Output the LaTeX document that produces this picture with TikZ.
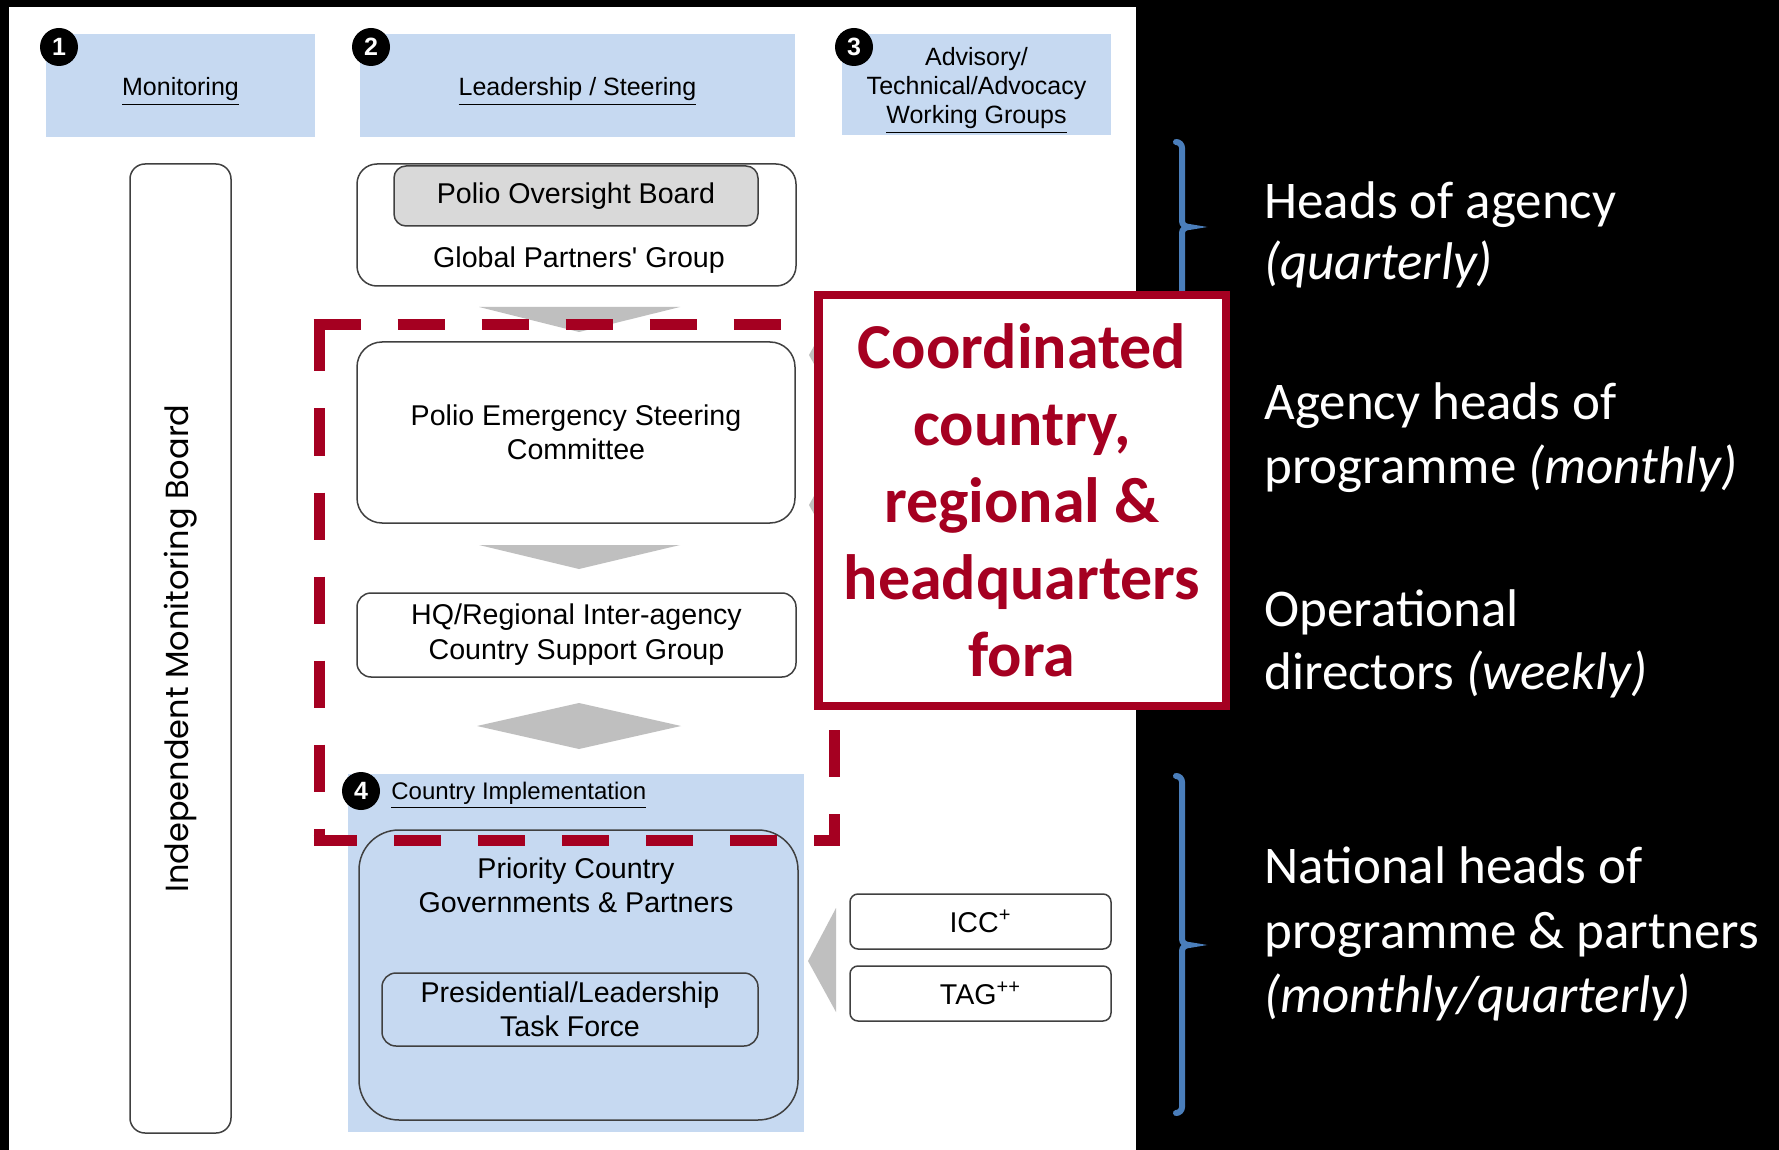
\documentclass[tikz,border=0pt]{standalone}
\usepackage{fontspec}
\setmainfont{Liberation Sans}
\newfontfamily\calibrifont{Carlito}
\newfontfamily\poppinsfont{Poppins}
\newcommand{\straightquote}{\XeTeXglyph\XeTeXcharglyph"27\relax}
\definecolor{hdrblue}{HTML}{C6D9F1}
\definecolor{arrowgray}{HTML}{BFBFBF}
\definecolor{darkred}{HTML}{A50021}
\definecolor{braceblue}{HTML}{4A7EBB}
\definecolor{pobgray}{HTML}{D9D9D9}
\definecolor{boxgray}{HTML}{404040}
\begin{document}
\begin{tikzpicture}[x=0.5pt,y=-0.5pt,
  hdr/.style={fill=hdrblue, inner sep=0},
  hdrtxt/.style={inner sep=0, align=center, font=\fontsize{12.5}{14.5}\selectfont},
  num/.style={circle, fill=black, minimum size=19pt, inner sep=0, text=white, font=\bfseries\fontsize{12.5}{12.5}\selectfont},
  box/.style={draw=boxgray, line width=0.75pt, fill=white, inner sep=0, align=center, font=\fontsize{14.3}{17}\selectfont},
  txt/.style={inner sep=0, align=center, font=\fontsize{14.3}{17}\selectfont},
  redbox/.style={draw=darkred, line width=4.25pt, fill=white, inner sep=0, align=center, text=darkred,
     font=\calibrifont\bfseries\fontsize{32}{38.5}\selectfont},
  reddash/.style={draw=darkred, line width=5.5pt, dash pattern=on 23.5pt off 18.5pt},
  side/.style={text=white, anchor=base west, inner sep=0, font=\calibrifont\fontsize{26.5}{31.5}\selectfont},
  bracepath/.style={draw=braceblue, line width=3pt, line cap=round}]
\useasboundingbox (0,0) rectangle (1779,1150);
\fill[black] (0,0) rectangle (1779,1150);
\fill[white] (9,7) rectangle (1136,1150);

% column headers
\node[hdr, minimum width=134.5pt, minimum height=51.5pt] (monh) at (180.5,85.5) {};
\node[hdr, minimum width=217.5pt, minimum height=51.5pt] (leadh) at (577.5,85.5) {};
\node[hdr, minimum width=134.5pt, minimum height=50.5pt] (advh) at (976.5,84.5) {};
\node[hdrtxt] (monht) at ([yshift=-3pt]monh.center) {\underline{Monitoring}};
\node[hdrtxt] (leadht) at ([yshift=-3pt]leadh.center) {\underline{Leadership / Steering}};
\node[hdrtxt] (advht) at ([yshift=-3pt]advh.center) {Advisory/\\Technical/Advocacy\\\underline{Working Groups}};
\node[num] (n1) at (59,47) {1};
\node[num] (n2) at (371,47) {2};
\node[num] (n3) at (854,47) {3};

% monitoring board
\node[box, rotate=90, minimum width=484.5pt, minimum height=50.5pt, rounded corners=7.5pt,
      font=\poppinsfont\fontsize{16}{18}\selectfont] (imb) at (180.5,648.5) {Independent Monitoring Board};

% leadership column
\node[box, minimum width=219.5pt, minimum height=61pt, rounded corners=10pt] (gpg) at (576.5,225) {};
\node[txt] (gpgt) at (579,260) {Global Partners\straightquote{} Group};
\node[box, fill=pobgray, minimum width=182pt, minimum height=30pt, rounded corners=6pt] (pob) at (576,196) {Polio Oversight Board};

\fill[arrowgray] (479,307) -- (680,307) -- (579,332) -- cycle;
\node[box, minimum width=219pt, minimum height=90.5pt, rounded corners=12.5pt] (pesc) at (576,432.5) {Polio Emergency Steering\\Committee};
\fill[arrowgray] (479,545) -- (680,545) -- (579,569) -- cycle;
\node[box, minimum width=219.5pt, minimum height=42pt, rounded corners=7pt, font=\fontsize{14.3}{17.5}\selectfont] (hq) at (576.5,635) {HQ/Regional Inter-agency\\Country Support Group};
\fill[arrowgray] (477,726) -- (579,703) -- (681,726) -- (579,749) -- cycle;

% country implementation
\node[fill=hdrblue, minimum width=228pt, minimum height=179pt, inner sep=0] (ci) at (576,953) {};
\node[num] (n4) at (361,791) {4};
\node[anchor=west, inner sep=0, font=\fontsize{12}{14}\selectfont] (cit) at (391,795) {\underline{Country Implementation}};
\node[box, fill=none, minimum width=219.5pt, minimum height=145pt, rounded corners=20pt] (pcg) at (578.5,975) {};
\node[txt] (pcgt) at (576,885.5) {Priority Country\\Governments \& Partners};
\node[box, fill=none, minimum width=188pt, minimum height=36.5pt, rounded corners=7pt] (plt) at (570,1009.5) {Presidential/Leadership\\Task Force};

% advisory side
\fill[arrowgray] (837,305) -- (809,355) -- (837,405) -- cycle;
\fill[arrowgray] (837,455) -- (809,505) -- (837,555) -- cycle;
\fill[arrowgray] (836,908) -- (808,961) -- (836,1012) -- cycle;
\node[box, minimum width=130.5pt, minimum height=27.5pt, rounded corners=4pt] (icc) at (980.5,921.5) {ICC\textsuperscript{+}};
\node[box, minimum width=130.5pt, minimum height=27.5pt, rounded corners=4pt] (tag) at (980.5,993.5) {TAG\textsuperscript{++}};

% red dashed frame
\draw[reddash] (313.5,325) -- (839.5,325);
\draw[reddash, dash phase=39.5pt] (319,319.5) -- (319,845.5);
\draw[reddash, dash phase=1.75pt] (313.5,840) -- (839.5,840);
\draw[reddash, dash phase=7.5pt] (834,845.5) -- (834,319.5);

% braces
\draw[bracepath] (1176,142) to[out=0,in=90] (1182,148) -- (1182,221) to[out=-90,in=180] (1189,227)
   to[out=180,in=90] (1182,233) -- (1182,306) to[out=-90,in=0] (1176,312);
\draw[bracepath] (1176,776) to[out=0,in=90] (1182,782) -- (1182,939) to[out=-90,in=180] (1189,945)
   to[out=180,in=90] (1182,951) -- (1182,1107) to[out=-90,in=0] (1176,1113);

% red callout
\node[redbox, minimum width=203.75pt, minimum height=205.25pt] (fora) at (1022,500.5) {Coordinated\\country,\\regional \&\\headquarters\\fora};

% right-hand texts
\node[side] (s1a) at (1264,219) {Heads of agency};
\node[side] (s1b) at (1264,280) {\itshape (quarterly)};
\node[side] (s2a) at (1264,420) {Agency heads of};
\node[side] (s2b) at (1264,483) {programme \textit{(monthly)}};
\node[side] (s3a) at (1264,626) {Operational};
\node[side] (s3b) at (1264,689) {directors \textit{(weekly)}};
\node[side] (s4a) at (1264,883) {National heads of};
\node[side] (s4b) at (1264,948) {programme \& partners};
\node[side] (s4c) at (1264,1012) {\itshape (monthly/quarterly)};
\end{tikzpicture}
\end{document}
